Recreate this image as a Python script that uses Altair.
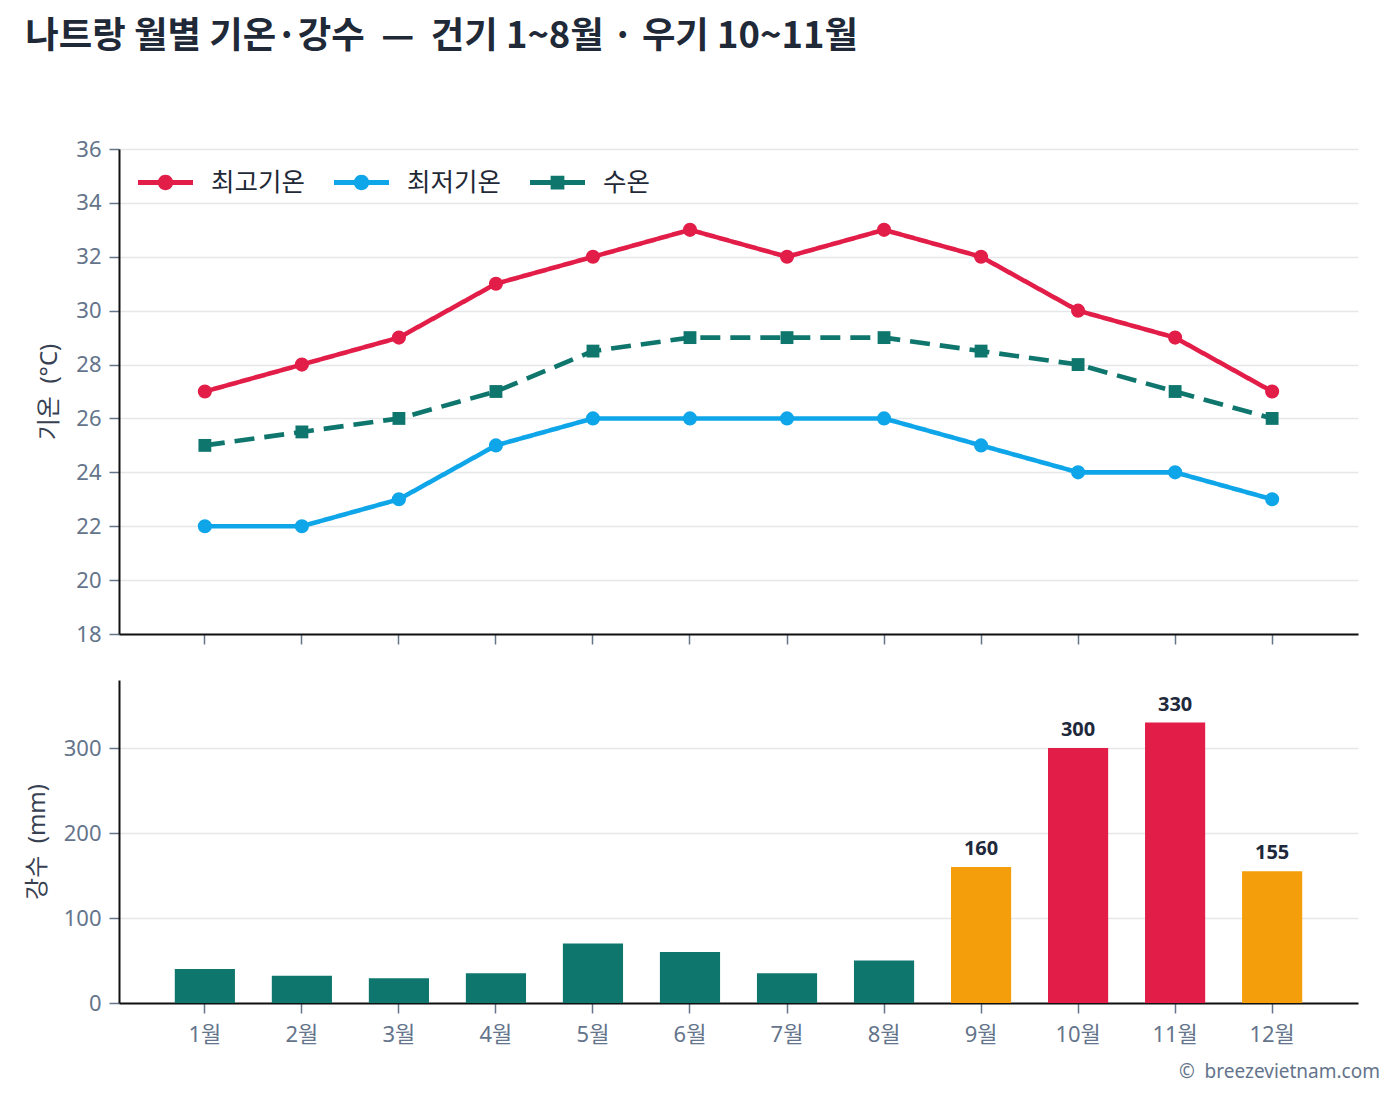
import altair as alt
import pandas as pd

# Monthly climate figures for Nha Trang
months = ["1월", "2월", "3월", "4월", "5월", "6월", "7월", "8월", "9월", "10월", "11월", "12월"]
t_high = [27, 28, 29, 31, 32, 33, 32, 33, 32, 30, 29, 27]
t_low = [22, 22, 23, 25, 26, 26, 26, 26, 25, 24, 24, 23]
sea_temp = [25, 25.5, 26, 27, 28.5, 29, 29, 29, 28.5, 28, 27, 26]
rainfall = [40, 32, 29, 35, 70, 60, 35, 50, 160, 300, 330, 155]
season = ["dry", "dry", "dry", "dry", "dry", "dry", "dry", "dry",
          "shoulder", "wet", "wet", "shoulder"]

series_names = ["최고기온", "최저기온", "수온"]
series_colors = ["#e11d48", "#0ea5e9", "#0f766e"]
season_names = ["dry", "shoulder", "wet"]
season_colors = ["#0f766e", "#f59e0b", "#e11d48"]

FONT = "Noto Sans, Noto Sans CJK KR"
GRAY = "#64748b"
NBSP = "\u00a0"

temp_df = pd.DataFrame({
    "month": months * 3,
    "series": [series_names[0]] * 12 + [series_names[1]] * 12 + [series_names[2]] * 12,
    "value": t_high + t_low + sea_temp,
})
rain_df = pd.DataFrame({"month": months, "rain": rainfall, "season": season})

x_scale = alt.Scale(type="band", domain=months, paddingInner=0.38, paddingOuter=0.575)

# legend glyphs: a short line with a circle / square marker on it
glyph_circle = ("M-1,-0.09H1V0.09H-1Z "
                "M0.28,0A0.28,0.28 0 1,1 -0.28,0A0.28,0.28 0 1,1 0.28,0Z")
glyph_square = "M-1,-0.09H1V0.09H-1Z M-0.25,-0.25H0.25V0.25H-0.25Z"

x_top = alt.X("month:O", sort=months, scale=x_scale,
              axis=alt.Axis(labels=False, title=None, grid=False, ticks=True))
y_top = alt.Y("value:Q", scale=alt.Scale(domain=[18, 36], nice=False, zero=False),
              axis=alt.Axis(values=list(range(18, 37, 2)),
                            title=f"기온{NBSP} (°C)"))

base_top = alt.Chart(temp_df)

lines = base_top.mark_line(strokeWidth=4.6).encode(
    x=x_top, y=y_top,
    stroke=alt.Stroke("series:N",
                      scale=alt.Scale(domain=series_names, range=series_colors),
                      legend=None),
    strokeDash=alt.StrokeDash("series:N",
                              scale=alt.Scale(domain=series_names,
                                              range=[[1, 0], [1, 0], [20, 10]]),
                              legend=None),
)

marker_fill = alt.Fill("series:N",
                       scale=alt.Scale(domain=series_names, range=series_colors),
                       legend=None)

circles = base_top.transform_filter(
    alt.datum.series != "수온"
).mark_circle(size=200, opacity=1).encode(x=x_top, y=y_top, fill=marker_fill)

squares = base_top.transform_filter(
    alt.datum.series == "수온"
).mark_square(size=165, opacity=1).encode(x=x_top, y=y_top, fill=marker_fill)

legend_style = dict(orient="none", legendX=19, legendY=6,
                    direction="horizontal", symbolSize=3025,
                    symbolStrokeWidth=0, symbolOpacity=1, labelFontSize=25.5,
                    labelColor="#1f2937", labelFont=FONT,
                    labelOffset=18, columnPadding=29)

# invisible layer that only carries the series legend
legend_key = base_top.mark_point(filled=True, opacity=0, strokeWidth=0).encode(
    x=x_top, y=y_top,
    color=alt.Color("series:N",
                    scale=alt.Scale(domain=series_names, range=series_colors),
                    title=None, legend=alt.Legend(**legend_style)),
    shape=alt.Shape("series:N",
                    scale=alt.Scale(domain=series_names,
                                    range=[glyph_circle, glyph_circle, glyph_square]),
                    title=None, legend=alt.Legend(**legend_style)),
)

top = alt.layer(lines, circles, squares, legend_key).properties(width=1239, height=485)

x_bottom = alt.X("month:O", sort=months, scale=x_scale,
                 axis=alt.Axis(title=None, grid=False, labelAngle=0,
                               labelFontSize=22, labelPadding=11))
y_bottom = alt.Y("rain:Q", scale=alt.Scale(domain=[0, 380], nice=False),
                 axis=alt.Axis(values=[0, 100, 200, 300],
                               title=f"강수{NBSP} (mm)"))

bars = alt.Chart(rain_df).mark_bar().encode(
    x=x_bottom, y=y_bottom,
    color=alt.Color("season:N",
                    scale=alt.Scale(domain=season_names, range=season_colors),
                    legend=None),
)

bar_labels = alt.Chart(rain_df).transform_filter(
    alt.datum.season != "dry"
).mark_text(baseline="bottom", dy=-8, fontSize=20, fontWeight="bold",
            color="#1e293b", font=FONT).encode(
    x=x_bottom, y=y_bottom, text="rain:Q",
)

bottom = alt.layer(bars, bar_labels).properties(
    width=1239, height=323,
    title=alt.TitleParams(f"©{NBSP} breezevietnam.com", orient="bottom",
                          anchor="end", fontSize=19, fontWeight="normal",
                          color=GRAY, font=FONT, offset=18, dx=22),
)

title_text = f"나트랑 월별 기온·강수 {NBSP}—{NBSP} 건기 1~8월 · 우기 10~11월"

chart = alt.vconcat(top, bottom, spacing=35).resolve_scale(
    color="independent", shape="independent"
).resolve_legend(
    color="independent", shape="independent"
).properties(
    title=alt.TitleParams(title_text, anchor="start", fontSize=36.4,
                          fontWeight="bold", color="#1f2937",
                          font="Noto Sans CJK KR", offset=83),
    padding={"left": 25, "top": 18, "right": 20, "bottom": 18},
    background="white",
).configure_view(
    stroke=None
).configure_axis(
    labelFont=FONT, titleFont=FONT, labelFontSize=22, labelColor=GRAY,
    titleFontSize=24, titleColor="#374151", titleFontWeight="normal",
    titlePadding=14, domainColor="#111111", domainWidth=2,
    tickColor=GRAY, tickWidth=1.5, tickSize=10, labelPadding=8,
    gridColor="#e5e7eb", gridWidth=1.5,
)

chart.save("out.html", embed_options={"renderer": "svg", "actions": False})
